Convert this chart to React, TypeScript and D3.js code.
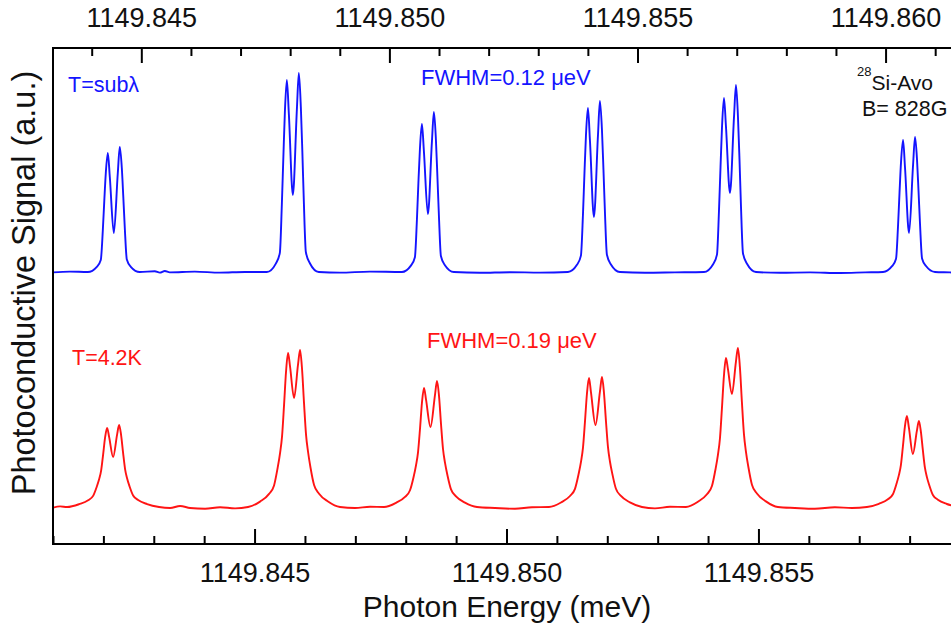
import React from "react";
import * as d3 from "d3";

// Photoconductive spectra: sub-lambda (blue, top energy axis) and 4.2 K (red, bottom energy axis)
const blueEnergy = [
  1149.843206, 1149.843549,
  1149.843911, 1149.844093, 1149.844173, 1149.844214, 1149.844244, 1149.844274, 1149.844315, 1149.844355,
  1149.844436, 1149.844516, 1149.844556, 1149.844597, 1149.844627, 1149.844657, 1149.844698, 1149.844778, 1149.84496,
  1149.845262, 1149.845363, 1149.845464, 1149.845564, 1149.846068, 1149.846572, 1149.847076,
  1149.84752, 1149.847701, 1149.847782, 1149.847822, 1149.847853, 1149.847883, 1149.847923, 1149.847964,
  1149.848044, 1149.848125, 1149.848165, 1149.848205, 1149.848236, 1149.848266, 1149.848306, 1149.848387, 1149.848568,
  1149.848992, 1149.849597,
  1149.850242, 1149.850423, 1149.850504, 1149.850544, 1149.850574, 1149.850605, 1149.850645, 1149.850685,
  1149.850766, 1149.850846, 1149.850887, 1149.850927, 1149.850957, 1149.850988, 1149.851028, 1149.851109, 1149.85129,
  1149.851814, 1149.852419, 1149.853024,
  1149.853588, 1149.85377, 1149.85385, 1149.853891, 1149.853921, 1149.853951, 1149.853991, 1149.854032,
  1149.854112, 1149.854193, 1149.854233, 1149.854274, 1149.854304, 1149.854334, 1149.854374, 1149.854455, 1149.854636,
  1149.855141, 1149.855745,
  1149.85633, 1149.856511, 1149.856592, 1149.856632, 1149.856663, 1149.856693, 1149.856733, 1149.856773,
  1149.856854, 1149.856935, 1149.856975, 1149.857015, 1149.857046, 1149.857076, 1149.857116, 1149.857197, 1149.857378,
  1149.857862, 1149.858467, 1149.859072, 1149.859576,
  1149.859939, 1149.86012, 1149.860201, 1149.860241, 1149.860271, 1149.860301, 1149.860342, 1149.860382,
  1149.860463, 1149.860543, 1149.860584, 1149.860624, 1149.860654, 1149.860685, 1149.860725, 1149.860805, 1149.860987,
  1149.861289, 1149.861491,
];

const blueSignal = [
  67.9, 68.1,
  68, 69.3, 71, 78.4, 85.85, 92.7, 97.75, 91.75,
  77.75, 92.75, 99.25, 94, 86.75, 79, 71.1, 69.3, 68,
  68.2, 67.85, 68.25, 67.9, 68.1, 67.85, 68,
  68, 70.1, 72.8, 84.8, 96.8, 107.85, 116, 107.4,
  87.25, 108.6, 117.75, 109.3, 97.85, 85.4, 73, 70.2, 68,
  67.85, 68.1,
  68, 69.6, 71.7, 80.95, 90.2, 98.7, 105, 98.25,
  82.5, 100.35, 108, 101.2, 92, 82, 72, 69.7, 68,
  67.8, 67.95, 67.85,
  68, 69.8, 72.1, 82.35, 92.6, 102, 109, 100.8,
  81.75, 102.05, 110.75, 103.5, 93.65, 82.95, 72.3, 69.9, 68,
  67.8, 67.9,
  68, 69.9, 72.35, 83.2, 94.1, 104.1, 111.5, 104.4,
  87.75, 106.65, 114.75, 106.8, 96.05, 84.35, 72.7, 70.05, 68,
  67.8, 67.9, 67.75, 67.9,
  68, 69.45, 71.3, 79.55, 87.8, 95.4, 101, 94.05,
  77.75, 94.55, 101.75, 96, 88.25, 79.8, 71.4, 69.5, 68,
  67.9, 67.8,
];

const redEnergy = [
  1149.840992, 1149.841131,
  1149.84127, 1149.841508, 1149.841687, 1149.841786, 1149.841855, 1149.841905, 1149.841945, 1149.841984,
  1149.842024, 1149.842064, 1149.842103, 1149.842183, 1149.842262, 1149.842302, 1149.842341, 1149.842381,
  1149.842421, 1149.84246, 1149.84251, 1149.84258, 1149.842679, 1149.842857, 1149.843095,
  1149.843314, 1149.843512, 1149.84371, 1149.844008, 1149.844306, 1149.844603,
  1149.844861, 1149.845099, 1149.845278, 1149.845377, 1149.845446, 1149.845496, 1149.845536, 1149.845575,
  1149.845615, 1149.845655, 1149.845694, 1149.845774, 1149.845853, 1149.845893, 1149.845932, 1149.845972,
  1149.846012, 1149.846052, 1149.846101, 1149.846171, 1149.84627, 1149.846448, 1149.846686,
  1149.846984, 1149.847282,
  1149.847559, 1149.847797, 1149.847976, 1149.848075, 1149.848145, 1149.848194, 1149.848234, 1149.848274,
  1149.848313, 1149.848353, 1149.848393, 1149.848482, 1149.848571, 1149.848611, 1149.848651, 1149.84869,
  1149.84873, 1149.84877, 1149.848819, 1149.848889, 1149.848988, 1149.849166, 1149.849405,
  1149.849762, 1149.850158, 1149.850496,
  1149.850833, 1149.851071, 1149.85125, 1149.851349, 1149.851418, 1149.851468, 1149.851508, 1149.851547,
  1149.851587, 1149.851627, 1149.851666, 1149.851756, 1149.851845, 1149.851885, 1149.851924, 1149.851964,
  1149.852004, 1149.852043, 1149.852093, 1149.852162, 1149.852261, 1149.85244, 1149.852678,
  1149.852936, 1149.853234,
  1149.853551, 1149.853789, 1149.853968, 1149.854067, 1149.854136, 1149.854186, 1149.854226, 1149.854265,
  1149.854305, 1149.854345, 1149.854384, 1149.854464, 1149.854543, 1149.854583, 1149.854622, 1149.854662,
  1149.854702, 1149.854741, 1149.854791, 1149.854861, 1149.85496, 1149.855138, 1149.855376,
  1149.855714, 1149.85611, 1149.856507, 1149.856845,
  1149.857142, 1149.85738, 1149.857559, 1149.857658, 1149.857727, 1149.857777, 1149.857817, 1149.857856,
  1149.857896, 1149.857936, 1149.857975, 1149.858055, 1149.858134, 1149.858174, 1149.858213, 1149.858253,
  1149.858293, 1149.858332, 1149.858382, 1149.858452, 1149.858551, 1149.858729, 1149.858967,
];

const redSignal = [
  9.1, 9.4,
  9.25, 9.95, 10.93, 12.03, 14.19, 16.16, 18.33, 22.28,
  26.63, 29, 26.83, 21.75, 27.35, 29.75, 27.3, 22.78,
  18.68, 16.43, 14.38, 12.13, 11, 9.98, 9.25,
  9, 9.5, 9, 8.8, 9.2, 8.9,
  9.25, 10.6, 12.53, 14.65, 18.88, 22.73, 26.95, 34.65,
  43.13, 47.75, 44.38, 36.5, 44.9, 48.5, 43.8, 35.15,
  27.3, 23, 19.06, 14.75, 12.58, 10.63, 9.25,
  9, 9.3,
  9.25, 10.3, 11.78, 13.43, 16.69, 19.66, 22.93, 28.88,
  35.43, 39, 36.08, 29.25, 37.3, 40.75, 36.98, 30.05,
  23.75, 20.28, 17.13, 13.65, 11.93, 10.35, 9.25,
  9, 8.8, 9.2,
  9.25, 10.38, 12, 13.78, 17.31, 20.54, 24.08, 30.53,
  37.63, 41.5, 37.98, 29.75, 38.15, 41.75, 37.85, 30.7,
  24.2, 20.63, 17.38, 13.8, 12.01, 10.39, 9.25,
  8.9, 9.3,
  9.25, 10.55, 12.43, 14.48, 18.56, 22.29, 26.38, 33.83,
  42.03, 46.5, 43.8, 37.5, 45.55, 49, 44.23, 35.48,
  27.53, 23.16, 19.19, 14.83, 12.63, 10.65, 9.25,
  9, 8.8, 9.2, 9,
  9.25, 10.05, 11.18, 12.43, 14.94, 17.21, 19.73, 24.28,
  29.28, 32, 29.15, 22.5, 28.28, 30.75, 28.18, 23.45,
  19.15, 16.78, 14.63, 12.25, 11.08, 10, 9.25,
];

const topLabels = [1149.845, 1149.85, 1149.855, 1149.86];
const bottomLabels = [1149.845, 1149.85, 1149.855];

const BLUE = "#1414ff";
const RED = "#ff1414";
const FONT = "'Liberation Sans', Arial, Helvetica, sans-serif";

const W = 951;
const H = 628;
const plot = { left: 53, right: 960, top: 48, bottom: 544 };

export default function App() {
  const xTop = d3.scaleLinear().domain([1149.84321, 1149.86149]).range([plot.left, plot.right]);
  const xBottom = d3.scaleLinear().domain([1149.84099, 1149.85899]).range([plot.left, plot.right]);
  const y = d3.scaleLinear().domain([0, 124]).range([plot.bottom, plot.top]);

  const blueLine = d3
    .line<number>()
    .x((e) => xTop(e))
    .y((_, i) => y(blueSignal[i]))
    .curve(d3.curveMonotoneX);
  const redLine = d3
    .line<number>()
    .x((e) => xBottom(e))
    .y((_, i) => y(redSignal[i]))
    .curve(d3.curveMonotoneX);

  const topTicks = d3.range(1149844, 1149862).map((k) => k / 1000);
  const bottomTicks = d3.range(1149841, 1149859).map((k) => k / 1000);
  const isMajor = (v: number) => Math.round(v * 1000) % 5 === 0;
  const fmt = d3.format(".3f");

  return (
    <svg
      width={W}
      height={H}
      viewBox={`0 0 ${W} ${H}`}
      style={{ position: "absolute", left: 0, top: 0, background: "#fff" }}
      fontFamily={FONT}
    >
      <defs>
        <clipPath id="plotArea">
          <rect x={plot.left} y={plot.top} width={plot.right - plot.left} height={plot.bottom - plot.top} />
        </clipPath>
      </defs>
      <rect x={0} y={0} width={W} height={H} fill="#fff" />

      <g clipPath="url(#plotArea)" fill="none" strokeWidth={1.9} strokeLinejoin="round">
        <path d={blueLine(blueEnergy) ?? ""} stroke={BLUE} />
        <path d={redLine(redEnergy) ?? ""} stroke={RED} />
      </g>

      {/* frame */}
      <path
        d={`M${plot.right},${plot.top}H${plot.left}V${plot.bottom}H${plot.right}`}
        fill="none"
        stroke="#000"
        strokeWidth={2}
      />

      {/* inward ticks: top axis for the blue trace, bottom axis for the red trace */}
      <g stroke="#000" strokeWidth={2}>
        {topTicks.map((v) => (
          <line
            key={`t${v}`}
            x1={xTop(v)}
            x2={xTop(v)}
            y1={plot.top}
            y2={plot.top + (isMajor(v) ? 15 : 8)}
          />
        ))}
        {bottomTicks.map((v) => (
          <line
            key={`b${v}`}
            x1={xBottom(v)}
            x2={xBottom(v)}
            y1={plot.bottom}
            y2={plot.bottom - (isMajor(v) ? 15 : 8)}
          />
        ))}
      </g>

      <g fontSize={27} textAnchor="middle" fill="#111">
        {topLabels.map((v) => (
          <text key={`tl${v}`} x={xTop(v)} y={27}>
            {fmt(v)}
          </text>
        ))}
        {bottomLabels.map((v) => (
          <text key={`bl${v}`} x={xBottom(v)} y={582}>
            {fmt(v)}
          </text>
        ))}
      </g>

      <text x={507} y={617} fontSize={30} textAnchor="middle" fill="#111">
        Photon Energy (meV)
      </text>
      <text
        transform="translate(35,283) rotate(-90)"
        fontSize={32.5}
        textAnchor="middle"
        fill="#111"
      >
        Photoconductive Signal (a.u.)
      </text>

      {/* annotations */}
      <text x={68} y={92} fontSize={21.5} fill={BLUE}>
        T=subλ
      </text>
      <text x={421} y={85} fontSize={22} fill={BLUE}>
        FWHM=0.12 μeV
      </text>
      <text x={857} y={90} fill="#111">
        <tspan fontSize={13} dy={-14}>28</tspan>
        <tspan fontSize={21} dy={14}>Si-Avo</tspan>
      </text>
      <text x={862} y={116} fontSize={21.5} fill="#111">
        B= 828G
      </text>
      <text x={72} y={365} fontSize={21.5} fill={RED}>
        T=4.2K
      </text>
      <text x={427} y={348} fontSize={22} fill={RED}>
        FWHM=0.19 μeV
      </text>
    </svg>
  );
}
